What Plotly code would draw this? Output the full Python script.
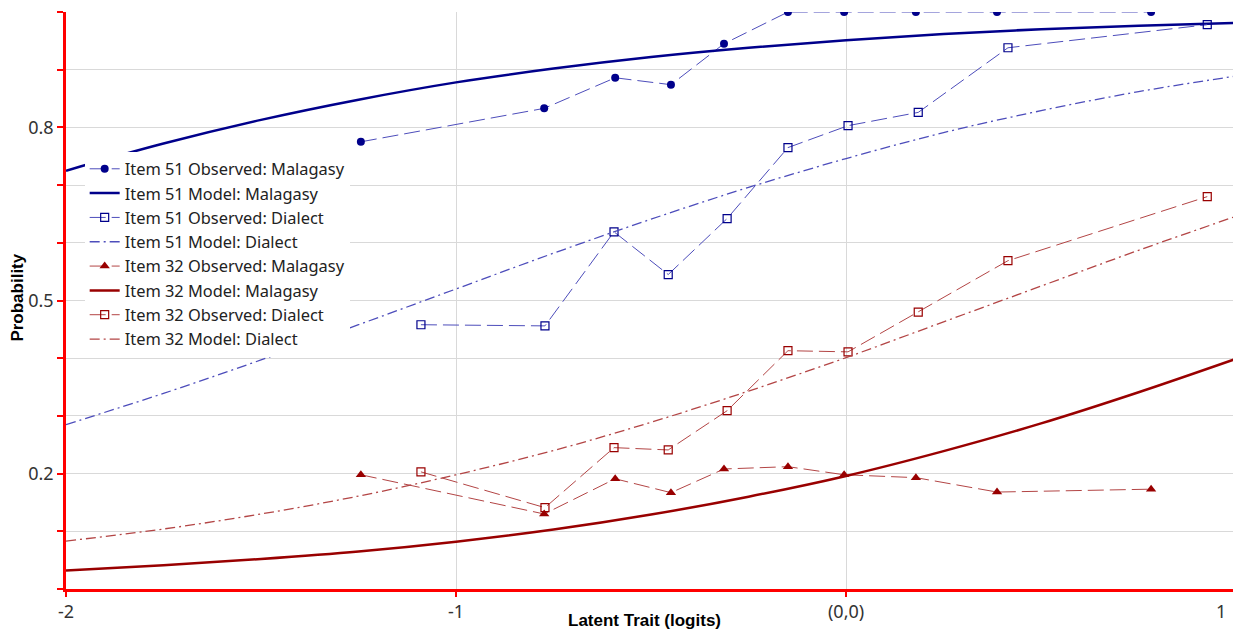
import plotly.graph_objects as go

# Observed proportions by ability group
x_obs_malagasy = [-1.244, -0.774, -0.592, -0.449, -0.313, -0.149, -0.005, 0.179, 0.387, 0.782]
x_obs_dialect = [-1.090, -0.772, -0.595, -0.456, -0.305, -0.149, 0.005, 0.185, 0.415, 0.926]

item51_obs_malagasy = [0.775, 0.833, 0.886, 0.874, 0.945, 1.0, 1.0, 1.0, 1.0, 1.0]
item51_obs_dialect = [0.458, 0.456, 0.619, 0.545, 0.642, 0.765, 0.803, 0.826, 0.938, 0.978]
item32_obs_malagasy = [0.198, 0.130, 0.191, 0.167, 0.208, 0.212, 0.198, 0.193, 0.168, 0.173]
item32_obs_dialect = [0.203, 0.141, 0.245, 0.241, 0.309, 0.413, 0.411, 0.480, 0.569, 0.680]

# Model (expected) probability curves
x_model = [-2.0, -1.75, -1.5, -1.25, -1.0, -0.75, -0.5, -0.25, 0.0, 0.25, 0.5, 0.75, 1.0]
item51_model_malagasy = [0.725, 0.772, 0.813, 0.848, 0.878, 0.902, 0.922, 0.938, 0.951, 0.962, 0.970, 0.976, 0.981]
item51_model_dialect = [0.285, 0.339, 0.397, 0.458, 0.520, 0.582, 0.641, 0.696, 0.746, 0.791, 0.829, 0.862, 0.889]
item32_model_malagasy = [0.032, 0.041, 0.052, 0.065, 0.082, 0.103, 0.129, 0.160, 0.196, 0.239, 0.287, 0.341, 0.399]
item32_model_dialect = [0.083, 0.104, 0.130, 0.161, 0.198, 0.240, 0.289, 0.343, 0.401, 0.463, 0.525, 0.587, 0.646]

y_tickvals = [round(0.1 * i, 1) for i in range(11)]
y_ticktext = ["" if v not in (0.2, 0.5, 0.8) else str(v) for v in y_tickvals]
x_tickvals = [-2, -1, 0]
x_ticktext = ["-2", "-1", "(0,0)"]

BLUE = "#00008B"
BLUE_THIN = "#4d4dbb"
RED = "#990000"
RED_THIN = "#b34545"
OBS_DASH = "16px,6px"
MODEL_DASH = "10px,4px,2px,4px"
TICK_FONT = dict(family="Noto Sans", size=18, color="#333")

fig = go.Figure()

fig.add_trace(go.Scatter(
    x=x_obs_malagasy, y=item51_obs_malagasy, mode="lines+markers",
    name="Item 51 Observed: Malagasy",
    line=dict(color=BLUE_THIN, width=1, dash=OBS_DASH),
    marker=dict(symbol="circle", size=8, color=BLUE)))
fig.add_trace(go.Scatter(
    x=x_model, y=item51_model_malagasy, mode="lines", line_shape="spline",
    name="Item 51 Model: Malagasy",
    line=dict(color=BLUE, width=2.5)))
fig.add_trace(go.Scatter(
    x=x_obs_dialect, y=item51_obs_dialect, mode="lines+markers",
    name="Item 51 Observed: Dialect",
    line=dict(color=BLUE_THIN, width=1, dash=OBS_DASH),
    marker=dict(symbol="square-open", size=8, color=BLUE, line=dict(width=1.2))))
fig.add_trace(go.Scatter(
    x=x_model, y=item51_model_dialect, mode="lines", line_shape="spline",
    name="Item 51 Model: Dialect",
    line=dict(color=BLUE_THIN, width=1.3, dash=MODEL_DASH)))
fig.add_trace(go.Scatter(
    x=x_obs_malagasy, y=item32_obs_malagasy, mode="lines+markers",
    name="Item 32 Observed: Malagasy",
    line=dict(color=RED_THIN, width=1, dash=OBS_DASH),
    marker=dict(symbol="triangle-up", size=9, color=RED)))
fig.add_trace(go.Scatter(
    x=x_model, y=item32_model_malagasy, mode="lines", line_shape="spline",
    name="Item 32 Model: Malagasy",
    line=dict(color=RED, width=2.5)))
fig.add_trace(go.Scatter(
    x=x_obs_dialect, y=item32_obs_dialect, mode="lines+markers",
    name="Item 32 Observed: Dialect",
    line=dict(color=RED_THIN, width=1, dash=OBS_DASH),
    marker=dict(symbol="square-open", size=8, color=RED, line=dict(width=1.2))))
fig.add_trace(go.Scatter(
    x=x_model, y=item32_model_dialect, mode="lines", line_shape="spline",
    name="Item 32 Model: Dialect",
    line=dict(color=RED_THIN, width=1.3, dash=MODEL_DASH)))

fig.update_layout(
    width=1233, height=630,
    margin=dict(l=66, r=0, t=12, b=41),
    paper_bgcolor="white", plot_bgcolor="white",
    showlegend=True,
    legend=dict(
        x=0.016, y=0.758, xanchor="left", yanchor="top",
        bgcolor="white", borderwidth=0,
        font=dict(family="Noto Sans", size=16.4, color="#222"),
        tracegroupgap=0, itemsizing="trace",
    ),
    xaxis=dict(
        range=[-2, 0.992], tickvals=x_tickvals, ticktext=x_ticktext,
        showgrid=True, gridcolor="#d9d9d9", gridwidth=1,
        showline=True, linecolor="red", linewidth=2.5,
        ticks="outside", tickcolor="red", ticklen=5, tickwidth=2,
        tickfont=TICK_FONT, zeroline=False,
    ),
    yaxis=dict(
        range=[0, 1.0], tickvals=y_tickvals, ticktext=y_ticktext,
        showgrid=True, gridcolor="#d9d9d9", gridwidth=1,
        showline=True, linecolor="red", linewidth=2.5,
        ticks="outside", tickcolor="red", ticklen=6, tickwidth=2,
        tickfont=TICK_FONT, zeroline=False,
    ),
    annotations=[
        dict(text="1", xref="paper", yref="paper", x=0.990, y=0, yshift=-8,
             xanchor="center", yanchor="top", showarrow=False,
             font=TICK_FONT),
        dict(text="<b>Latent Trait (logits)</b>", xref="paper", yref="paper",
             x=0.496, y=0, yshift=-31, xanchor="center", yanchor="middle",
             showarrow=False,
             font=dict(family="Liberation Sans", size=17, color="black")),
        dict(text="<b>Probability</b>", xref="paper", yref="paper",
             x=0, xshift=-48, y=0.505, xanchor="center", yanchor="middle",
             textangle=-90, showarrow=False,
             font=dict(family="Liberation Sans", size=17, color="black")),
    ],
)

fig.write_html("out.html")
